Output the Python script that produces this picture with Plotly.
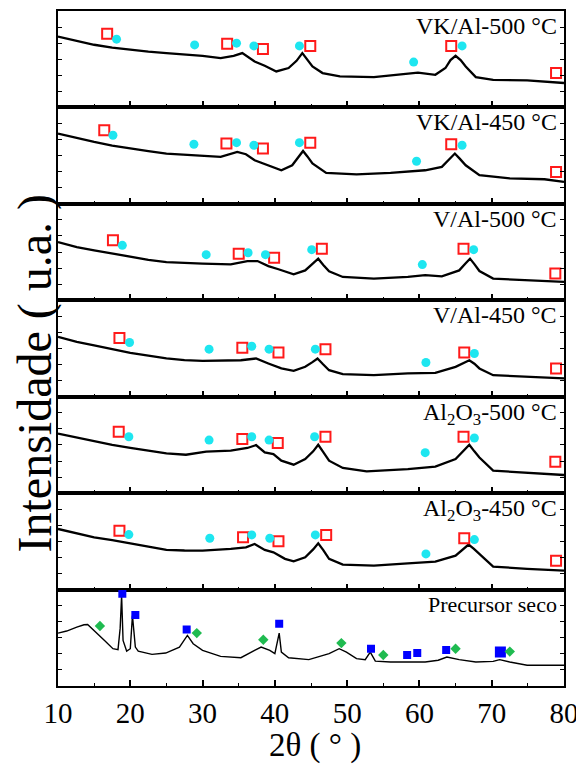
import plotly.graph_objects as go
from plotly.subplots import make_subplots

# ---------------- data ----------------
labels = ["VK/Al-500 °C", "VK/Al-450 °C", "V/Al-500 °C", "V/Al-450 °C",
          "Al<sub>2</sub>O<sub>3</sub>-500 °C", "Al<sub>2</sub>O<sub>3</sub>-450 °C",
          "Precursor seco"]

vk500_x = [10, 12, 15, 17.5, 20, 22.5, 25, 27.5, 30, 32.5, 34.3, 35.5, 36.3, 37.2, 38.6, 40.2,
           41.9, 43, 43.8, 44.5, 45.2, 46.6, 49, 53.7, 58.4, 59.8, 62.2, 63.6, 64.3, 65, 65.7,
           66.4, 67.8, 70.2, 74.9, 80]
vk500_y = [4.41, 4.2, 3.9, 3.72, 3.58, 3.47, 3.38, 3.3, 3.21, 3.07, 3.21, 3.38, 3.15, 2.86, 2.59, 2.24,
           2.45, 2.9, 3.38, 3.0, 2.55, 2.14, 1.93, 1.89, 2.09, 2.17, 2.03, 2.45, 2.95, 3.21, 2.95,
           2.55, 1.89, 1.72, 1.68, 1.52]

vk450_x = [10, 12, 15, 17.5, 20, 22.5, 25, 27.5, 30, 32.5, 34.8, 36, 37.2, 39, 40.9, 42.4, 43.3,
           43.9, 44.5, 45.2, 47.1, 51.3, 56, 60.8, 63.1, 64.2, 64.9, 65.6, 66.4, 68.3, 72.5, 77.3, 80]
vk450_y = [4.37, 4.15, 3.85, 3.63, 3.44, 3.28, 3.13, 3.06, 3.02, 2.92, 3.23, 3.09, 2.71, 2.40, 2.09,
           2.40, 2.9, 3.29, 2.95, 2.51, 1.93, 1.84, 1.93, 2.09, 2.30, 2.8, 3.13, 2.8, 2.40, 1.78,
           1.58, 1.53, 1.37]

v500_x = [10, 12.6, 15, 17.5, 20, 22.5, 25, 27.5, 30, 33.9, 36.2, 37.6, 39.1, 40.5, 42.6, 44.2,
          45.3, 46, 46.7, 47.5, 49.4, 53.7, 58.4, 60.8, 63.1, 65.5, 66.4, 67, 67.6, 68.3, 70.2,
          74.9, 80]
v500_y = [3.62, 3.31, 3.11, 2.9, 2.69, 2.52, 2.38, 2.31, 2.28, 2.24, 2.44, 2.44, 2.13, 1.93, 1.61,
          1.86, 2.3, 2.59, 2.2, 1.80, 1.45, 1.35, 1.45, 1.57, 1.49, 1.86, 2.3, 2.59, 2.25, 1.82,
          1.35, 1.24, 1.14]

v450_x = [10, 12.6, 15, 17.5, 20, 22.5, 25, 27.5, 30, 35.3, 37.4, 39.1, 40.9, 42.6, 44.2, 45.2,
          45.9, 46.6, 47.5, 49.4, 53.7, 58.4, 62.2, 65, 66.2, 66.9, 67.6, 68.3, 70.2, 74.9, 80]
v450_y = [3.72, 3.41, 3.20, 2.95, 2.73, 2.55, 2.38, 2.28, 2.23, 2.27, 2.38, 2.07, 1.76, 1.61, 1.86,
          2.15, 2.38, 2.05, 1.65, 1.40, 1.34, 1.45, 1.48, 1.86, 2.15, 2.27, 2.05, 1.76, 1.34,
          1.24, 1.14]

al500_x = [10, 12.6, 15, 17.5, 20, 22.5, 25, 27.7, 30.5, 33.9, 36.2, 37.4, 38.6, 39.8, 40.9,
           42.6, 44.2, 45.3, 46, 46.7, 47.5, 49.4, 52.7, 58.4, 62.2, 65, 66.2, 66.9, 67.6, 68.3,
           70.2, 74.9, 80]
al500_y = [3.71, 3.47, 3.22, 3.0, 2.81, 2.63, 2.47, 2.39, 2.58, 2.64, 2.81, 2.99, 2.53, 2.43, 2.02,
           1.77, 2.12, 2.6, 3.01, 2.55, 2.02, 1.57, 1.35, 1.50, 1.65, 2.12, 2.65, 3.01, 2.6, 2.22,
           1.40, 1.29, 1.13]

al450_x = [10, 12.6, 15, 17.5, 20, 22.5, 25, 27.5, 30, 33.9, 36, 37.2, 38.6, 39.8, 41.4, 42.6,
           44.2, 45.3, 46, 46.7, 47.5, 49.4, 53.7, 58.4, 62.2, 65, 66.1, 66.8, 67.5, 68.3, 70.2,
           74.9, 80]
al450_y = [3.77, 3.50, 3.25, 3.07, 2.88, 2.67, 2.47, 2.43, 2.42, 2.53, 2.63, 2.84, 2.47, 2.32, 1.91,
           1.76, 2.01, 2.5, 2.88, 2.45, 1.91, 1.55, 1.49, 1.63, 1.74, 2.11, 2.55, 2.80, 2.55, 2.22,
           1.43, 1.29, 1.18]

prec_x = [10, 11.2, 12.6, 13.6, 14.1, 15, 16.4, 17.6, 18.3, 18.6, 18.8, 19.0, 19.5, 20.0, 20.3,
          20.7, 21.1, 23, 24.9, 26.8, 27.9, 28.7, 30, 32.5, 35.3, 37.2, 38.1, 39.3, 40, 40.6,
          40.9, 41.9, 44.7, 47.5, 48.9, 49.9, 51.3, 52.5, 53.2, 53.9, 56, 58.4, 60.8, 62.6,
          63.8, 65.5, 67.8, 70.2, 71.1, 72.5, 74.9, 77.3, 80]
prec_y = [3.29, 3.42, 3.66, 3.81, 3.83, 3.46, 2.84, 2.32, 2.26, 3.6, 5.63, 2.84, 2.17, 2.32, 4.39,
          2.42, 2.17, 1.97, 2.05, 2.42, 3.15, 2.63, 2.22, 1.84, 1.76, 2.22, 2.42, 2.22, 2.01, 3.29,
          2.11, 1.76, 1.64, 2.01, 2.32, 2.11, 1.70, 1.64, 2.11, 1.55, 1.49, 1.49, 1.49, 1.60,
          1.80, 1.64, 1.49, 1.53, 1.64, 1.49, 1.29, 1.29, 1.29]

curves_x = [vk500_x, vk450_x, v500_x, v450_x, al500_x, al450_x, prec_x]
curves_y = [vk500_y, vk450_y, v500_y, v450_y, al500_y, al450_y, prec_y]

# phase markers (red open squares, cyan circles) per panel
red_x = [[16.8, 33.4, 38.35, 44.9, 64.4, 78.9],
         [16.4, 33.3, 38.35, 44.9, 64.4, 78.9],
         [17.6, 35.0, 39.9, 46.5, 66.1, 78.8],
         [18.5, 35.5, 40.5, 47.0, 66.2, 78.9],
         [18.4, 35.5, 40.4, 47.0, 66.1, 78.8],
         [18.5, 35.6, 40.5, 47.1, 66.2, 78.9]]
red_y = [[4.58, 3.96, 3.63, 3.83, 3.83, 2.14],
         [4.58, 3.75, 3.44, 3.81, 3.71, 1.99],
         [3.73, 2.90, 2.65, 3.21, 3.21, 1.66],
         [3.66, 3.04, 2.75, 2.96, 2.75, 1.76],
         [3.82, 3.37, 3.12, 3.51, 3.51, 1.96],
         [3.66, 3.25, 3.00, 3.40, 3.19, 1.80]]
cyan_x = [[18.1, 28.9, 34.7, 37.1, 43.4, 59.2, 65.9],
          [17.6, 28.8, 34.7, 37.1, 43.4, 59.6, 65.9],
          [18.9, 30.5, 36.3, 38.7, 45.1, 60.4, 67.5],
          [19.9, 30.9, 36.8, 39.2, 45.6, 60.9, 67.6],
          [19.8, 30.9, 36.8, 39.2, 45.5, 60.8, 67.6],
          [19.8, 31.0, 36.8, 39.3, 45.6, 60.9, 67.6]]
cyan_y = [[4.25, 3.89, 4.00, 3.83, 3.83, 2.82, 3.83],
          [4.27, 3.71, 3.81, 3.65, 3.81, 2.65, 3.65],
          [3.42, 2.84, 2.96, 2.84, 3.15, 2.22, 3.15],
          [3.37, 2.96, 3.14, 2.96, 2.96, 2.13, 2.69],
          [3.51, 3.30, 3.51, 3.30, 3.51, 2.52, 3.43],
          [3.42, 3.19, 3.40, 3.19, 3.40, 2.22, 3.11]]

blue_x = [18.9, 20.7, 27.8, 40.6, 53.3, 58.3, 59.7, 63.7, 71.2]
blue_y = [5.74, 4.41, 3.52, 3.88, 2.32, 1.93, 2.05, 2.24, 2.11]
blue_big = [False, False, False, False, False, False, False, False, True]
green_x = [15.8, 29.2, 38.4, 49.2, 55.0, 65.0, 72.5]
green_y = [3.73, 3.29, 2.88, 2.67, 1.93, 2.32, 2.14]

x_ticks = [10, 20, 30, 40, 50, 60, 70, 80]

# ---------------- figure ----------------
FONT = "Liberation Serif"
RED = "#ff1a1a"
CYAN = "#1ee6f0"
BLUE = "#0000ff"
GREEN = "#1fbb50"

n = len(labels)
fig = make_subplots(rows=n, cols=1, shared_xaxes=True, vertical_spacing=0)

for i in range(n):
    r = i + 1
    fig.add_trace(go.Scatter(x=curves_x[i], y=curves_y[i], mode="lines",
                             line=dict(color="black", width=2.3 if i < 6 else 1.4),
                             showlegend=False, hoverinfo="skip"), row=r, col=1)
    if i < 6:
        fig.add_trace(go.Scatter(x=red_x[i], y=red_y[i], mode="markers",
                                 marker=dict(symbol="square-open", size=10, color=RED,
                                             line=dict(width=2, color=RED)),
                                 showlegend=False), row=r, col=1)
        fig.add_trace(go.Scatter(x=cyan_x[i], y=cyan_y[i], mode="markers",
                                 marker=dict(symbol="circle", size=9, color=CYAN,
                                             line=dict(width=0)),
                                 showlegend=False), row=r, col=1)
    else:
        fig.add_trace(go.Scatter(x=blue_x, y=blue_y, mode="markers",
                                 marker=dict(symbol="square", color=BLUE, opacity=1,
                                             size=[11 if b else 8 for b in blue_big],
                                             line=dict(width=0)),
                                 showlegend=False), row=r, col=1)
        fig.add_trace(go.Scatter(x=green_x, y=green_y, mode="markers",
                                 marker=dict(symbol="diamond", size=8, color=GREEN,
                                             line=dict(width=0)),
                                 showlegend=False), row=r, col=1)

    fig.update_xaxes(range=[10, 80], tickvals=x_ticks, ticks="inside", ticklen=6, tickwidth=1.5,
                     tickcolor="black", minor=dict(dtick=5, ticks="inside", ticklen=3,
                                                   tickwidth=1.2, tickcolor="black"),
                     showline=True, linewidth=2, linecolor="black", mirror=True,
                     showgrid=False, zeroline=False, automargin=False,
                     tickfont=dict(family=FONT, size=29, color="black"),
                     row=r, col=1)
    fig.update_yaxes(range=[0, 6], dtick=1, ticks="inside", ticklen=4, tickwidth=1.2,
                     tickcolor="black", showticklabels=False,
                     showline=True, linewidth=2, linecolor="black", mirror="ticks",
                     showgrid=False, zeroline=False, automargin=False, row=r, col=1)

    yref = "y domain" if r == 1 else f"y{r} domain"
    xref = "x domain" if r == 1 else f"x{r} domain"
    fig.add_annotation(text=labels[i], xref=xref, yref=yref, x=0.99, y=1.0,
                       xanchor="right", yanchor="top", showarrow=False,
                       font=dict(family=FONT, size=24 if i < 6 else 22, color="black"))

fig.update_xaxes(showticklabels=True, row=n, col=1)

# plot area: 506 px wide, 675 px tall (paper units)
fig.add_annotation(text="2θ ( ° )", xref="paper", yref="paper", x=0.507, y=-60 / 675,
                   xanchor="center", yanchor="middle", showarrow=False,
                   font=dict(family=FONT, size=33, color="black"))
fig.add_annotation(text="Intensidade ( u.a. )", xref="paper", yref="paper", x=-23 / 506,
                   y=0.463, xanchor="center", yanchor="middle", textangle=-90,
                   showarrow=False, font=dict(family=FONT, size=48, color="black"))

# the page body adds an 8 px offset; the figure size and margins compensate for it
fig.update_layout(width=576, height=757,
                  margin=dict(l=50, r=20, t=3, b=79),
                  paper_bgcolor="white", plot_bgcolor="white",
                  font=dict(family=FONT, color="black"))

fig.write_html("out.html")
